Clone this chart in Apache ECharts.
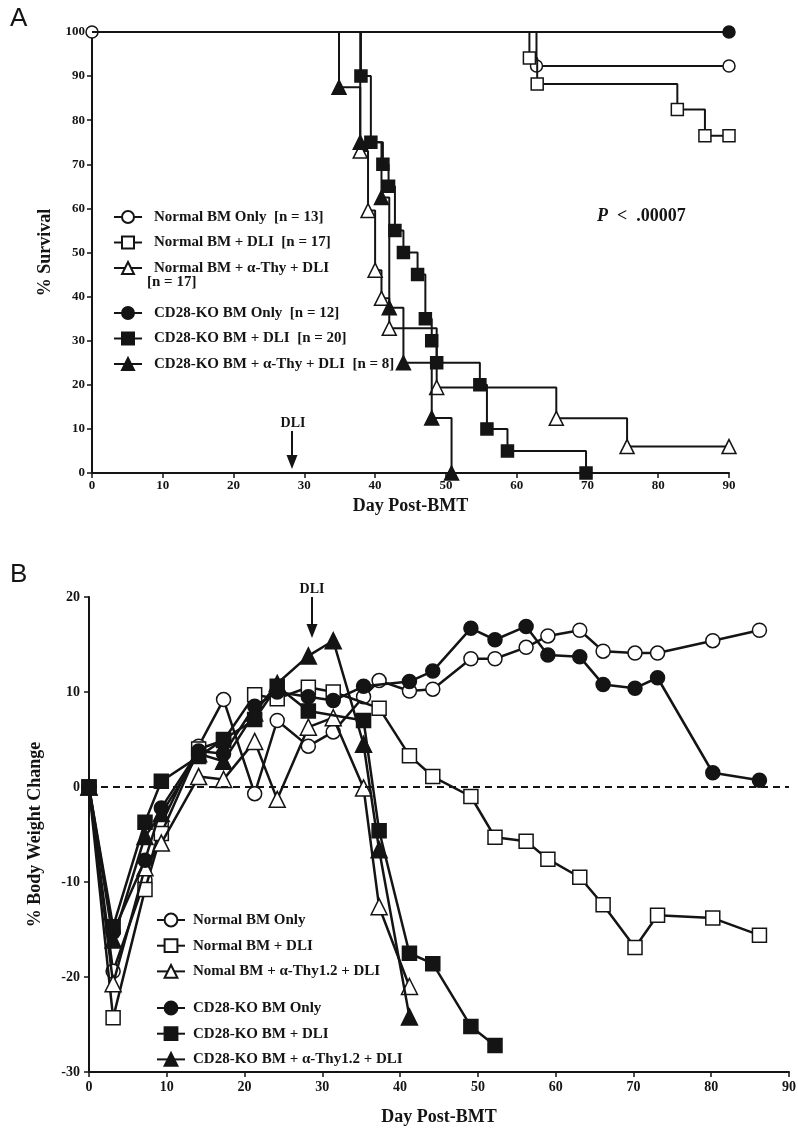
<!DOCTYPE html>
<html>
<head>
<meta charset="utf-8">
<script src="https://cdn.jsdelivr.net/npm/echarts@6/dist/echarts.min.js"></script>
<style>
  body { margin: 0; background: #fff; }
  #a { position: absolute; left: 0; top: 0; width: 798px; height: 525px; }
  #b { position: absolute; left: 0; top: 500px; width: 798px; height: 634px; }
</style>
</head>
<body>
<div id="a"></div>
<div id="b"></div>
<script>
// ---- panel A : Kaplan-Meier survival ----
const aNames = ['Normal BM Only', 'Normal BM + DLI', 'Normal BM + α-Thy + DLI',
  'CD28-KO BM Only', 'CD28-KO BM + DLI', 'CD28-KO BM + α-Thy + DLI']
const aCounts = ['[n = 13]', '[n = 17]', '[n = 17]', '[n = 12]', '[n = 20]', '[n = 8]']

const normOnlyDays = [0, 62.8, 90]
const normOnlySurv = [100, 92.3, 92.3]
const normDliDays = [0, 61.8, 62.9, 82.7, 86.6, 90]
const normDliSurv = [100, 94.1, 88.2, 82.4, 76.5, 76.5]
const normThyDays = [0, 37.9, 39.0, 40.0, 40.9, 42.0, 48.7, 65.6, 75.6, 90]
const normThySurv = [100, 73, 59.5, 46, 39.6, 32.8, 19.4, 12.4, 6, 6]
const koOnlyDays = [0, 90]
const koOnlySurv = [100, 100]
const koDliDays = [0, 38.0, 39.4, 41.1, 41.9, 42.8, 44.0, 46.0, 47.1, 48.0, 48.7, 54.8, 55.8, 58.7, 69.8]
const koDliSurv = [100, 90, 75, 70, 65, 55, 50, 45, 35, 30, 25, 20, 10, 5, 0]
const koThyDays = [0, 34.9, 37.9, 40.9, 42.0, 44.0, 48.0, 50.8]
const koThySurv = [100, 87.5, 75, 62.5, 37.5, 25, 12.5, 0]

// ---- panel B : body weight change ----
const bNames = ['Normal BM Only', 'Normal BM + DLI', 'Nomal BM + α-Thy1.2 + DLI',
  'CD28-KO BM Only', 'CD28-KO BM + DLI', 'CD28-KO BM + α-Thy1.2 + DLI']

const bNormOnlyDay = [0, 3.1, 7.2, 9.3, 14.1, 17.3, 21.3, 24.2, 28.2, 31.4, 35.3, 37.3, 41.2, 44.2, 49.1, 52.2, 56.2, 59.0, 63.1, 66.1, 70.2, 73.1, 80.2, 86.2]
const bNormOnlyVal = [0, -19.4, -9.8, -3.9, 4.3, 9.2, -0.7, 7.0, 4.3, 5.8, 9.5, 11.2, 10.1, 10.3, 13.5, 13.5, 14.7, 15.9, 16.5, 14.3, 14.1, 14.1, 15.4, 16.5]
const bNormDliDay = [0, 3.1, 7.2, 9.3, 14.1, 17.3, 21.3, 24.2, 28.2, 31.4, 37.3, 41.2, 44.2, 49.1, 52.2, 56.2, 59.0, 63.1, 66.1, 70.2, 73.1, 80.2, 86.2]
const bNormDliVal = [0, -24.3, -10.8, -4.9, 4.0, 4.9, 9.7, 9.3, 10.5, 10.0, 8.3, 3.3, 1.1, -1.0, -5.3, -5.7, -7.6, -9.5, -12.4, -16.9, -13.5, -13.8, -15.6]
const bNormThyDay = [0, 3.1, 7.2, 9.3, 14.1, 17.3, 21.3, 24.2, 28.2, 31.4, 35.3, 37.3, 41.2]
const bNormThyVal = [0, -20.7, -8.5, -5.9, 1.1, 0.8, 4.8, -1.3, 6.3, 7.3, -0.1, -12.6, -21.0]
const bKoOnlyDay = [0, 3.1, 7.2, 9.3, 14.1, 17.3, 21.3, 24.2, 28.2, 31.4, 35.3, 41.2, 44.2, 49.1, 52.2, 56.2, 59.0, 63.1, 66.1, 70.2, 73.1, 80.2, 86.2]
const bKoOnlyVal = [0, -15.3, -7.7, -2.2, 3.8, 3.5, 8.5, 10.0, 9.5, 9.1, 10.6, 11.1, 12.2, 16.7, 15.5, 16.9, 13.9, 13.7, 10.8, 10.4, 11.5, 1.5, 0.7]
const bKoDliDay = [0, 3.1, 7.2, 9.3, 14.1, 17.3, 21.3, 24.2, 28.2, 35.3, 37.3, 41.2, 44.2, 49.1, 52.2]
const bKoDliVal = [0, -14.7, -3.7, 0.6, 3.2, 5.0, 7.1, 10.6, 8.0, 7.0, -4.6, -17.5, -18.6, -25.2, -27.2]
const bKoThyDay = [0, 3.1, 7.2, 9.3, 14.1, 17.3, 21.3, 24.2, 28.2, 31.4, 35.3, 37.3, 41.2]
const bKoThyVal = [0, -16.1, -5.2, -2.8, 3.5, 2.7, 7.8, 10.9, 13.8, 15.4, 4.5, -6.6, -24.2]

const xTicks = [0, 90, 10]
const aYTicks = [0, 100, 10]
const bYTicks = [-30, 20, 10]

const INK = '#141414'
const SERIF = '"Liberation Serif", "Times New Roman", serif'

const symbols = ['circle', 'rect', 'triangle', 'circle', 'rect', 'triangle']
const filled = [false, false, false, true, true, true]

function lineSeries(i, name, xs, ys, opts) {
  return {
    name: name,
    type: 'line',
    step: opts.step,
    data: xs.map((x, k) => (k === 0 && opts.hideFirst) ? { value: [x, ys[k]], symbolSize: 0 } : [x, ys[k]]),
    symbol: symbols[i],
    symbolSize: symbols[i] === 'triangle' ? opts.size + 2 : opts.size,
    showAllSymbol: true,
    lineStyle: { color: INK, width: opts.width },
    itemStyle: { color: filled[i] ? INK : '#fff', borderColor: INK, borderWidth: 1.5 },
    emphasis: { disabled: true },
    z: 2 + i
  }
}

function axisCommon(extra) {
  return Object.assign({
    type: 'value',
    axisLine: { onZero: false, lineStyle: { color: INK, width: 2 } },
    axisTick: { length: 5, lineStyle: { color: INK, width: 1.5 } },
    splitLine: { show: false },
    nameLocation: 'middle',
    nameTextStyle: { color: INK, fontFamily: SERIF, fontWeight: 'bold', fontSize: 18 }
  }, extra)
}

function legendBlock(names, fmt, left, top, gap, pad, iconH) {
  return {
    data: names, orient: 'vertical', left: left, top: top, itemGap: gap,
    itemWidth: 28, itemHeight: iconH, selectedMode: false,
    formatter: fmt,
    textStyle: { color: INK, fontFamily: SERIF, fontWeight: 'bold', fontSize: 15, lineHeight: 16, padding: [0, 0, 0, pad] }
  }
}

function arrow(x, y0, y1) {
  return [
    { type: 'line', shape: { x1: x, y1: y0, x2: x, y2: y1 - 10 }, style: { stroke: INK, lineWidth: 2 } },
    { type: 'polygon', shape: { points: [[x - 5.5, y1 - 14], [x + 5.5, y1 - 14], [x, y1]] }, style: { fill: INK } }
  ]
}

// ---------- chart A ----------
const chartA = echarts.init(document.getElementById('a'))
const aDays = [normOnlyDays, normDliDays, normThyDays, koOnlyDays, koDliDays, koThyDays]
const aSurv = [normOnlySurv, normDliSurv, normThySurv, koOnlySurv, koDliSurv, koThySurv]
const aFmt = name => {
  const i = aNames.indexOf(name)
  return i === 2 ? name : name + '  ' + aCounts[i]
}
chartA.setOption({
  animation: false,
  grid: { left: 92, top: 32, width: 637, height: 441, outerBoundsMode: 'none' },
  xAxis: axisCommon({ min: xTicks[0], max: xTicks[1], interval: xTicks[2], name: 'Day Post-BMT', nameGap: 22,
    axisLabel: { color: INK, fontFamily: SERIF, fontWeight: 'bold', fontSize: 13, margin: 6 } }),
  yAxis: axisCommon({ min: aYTicks[0], max: aYTicks[1], interval: aYTicks[2], name: '% Survival', nameGap: 38,
    axisLabel: { color: INK, fontFamily: SERIF, fontWeight: 'bold', fontSize: 13, margin: 7 } }),
  legend: [
    legendBlock(aNames.slice(0, 3), aFmt, 108, 204, 9.5, 7, 15),
    legendBlock(aNames.slice(3), aFmt, 108, 300, 9.5, 7, 15)
  ],
  series: aNames.map((n, i) => lineSeries(i, n, aDays[i], aSurv[i], { step: 'end', size: 12, width: 2, hideFirst: i !== 0 })),
  graphic: [
    { type: 'text', left: 10, top: 6, style: { text: 'A', font: '26px "Liberation Sans", Arial, sans-serif', fill: INK } },
    { type: 'text', x: 147, y: 282, style: { text: aCounts[2], verticalAlign: 'middle', font: 'bold 15px ' + SERIF, fill: INK } },
    { type: 'text', x: 597, y: 216, style: {
      text: '{p|P}  <  .00007', verticalAlign: 'middle', font: 'bold 18px ' + SERIF, fill: INK,
      rich: { p: { fontStyle: 'italic', fontWeight: 'bold', fontSize: 18, fontFamily: SERIF } } } },
    { type: 'text', x: 293, y: 423, style: { text: 'DLI', align: 'center', verticalAlign: 'middle', font: 'bold 14px ' + SERIF, fill: INK } }
  ].concat(arrow(292, 431, 469))
})

// ---------- chart B ----------
const chartB = echarts.init(document.getElementById('b'))
const bDays = [bNormOnlyDay, bNormDliDay, bNormThyDay, bKoOnlyDay, bKoDliDay, bKoThyDay]
const bVals = [bNormOnlyVal, bNormDliVal, bNormThyVal, bKoOnlyVal, bKoDliVal, bKoThyVal]
const bSeries = bNames.map((n, i) => lineSeries(i, n, bDays[i], bVals[i], { size: 14, width: 2.5, hideFirst: false }))
bSeries[0].markLine = {
  silent: true, symbol: 'none', label: { show: false },
  lineStyle: { color: INK, type: [7, 5], width: 2 },
  data: [{ yAxis: 0 }]
}
chartB.setOption({
  animation: false,
  grid: { left: 89, top: 97, width: 700, height: 475, outerBoundsMode: 'none' },
  xAxis: axisCommon({ min: xTicks[0], max: xTicks[1], interval: xTicks[2], name: 'Day Post-BMT', nameGap: 36,
    axisLabel: { color: INK, fontFamily: SERIF, fontWeight: 'bold', fontSize: 14, margin: 8 } }),
  yAxis: axisCommon({ min: bYTicks[0], max: bYTicks[1], interval: bYTicks[2], name: '% Body Weight Change', nameGap: 45,
    axisLabel: { color: INK, fontFamily: SERIF, fontWeight: 'bold', fontSize: 14, margin: 9 } }),
  legend: [
    legendBlock(bNames.slice(0, 3), null, 151, 407, 9.7, 3, 16),
    legendBlock(bNames.slice(3), null, 151, 495, 9.7, 3, 16)
  ],
  series: bSeries,
  graphic: [
    { type: 'text', left: 10, top: 62, style: { text: 'B', font: '26px "Liberation Sans", Arial, sans-serif', fill: INK } },
    { type: 'text', x: 312, y: 89, style: { text: 'DLI', align: 'center', verticalAlign: 'middle', font: 'bold 14px ' + SERIF, fill: INK } }
  ].concat(arrow(312, 97, 138))
})
</script>
</body>
</html>
